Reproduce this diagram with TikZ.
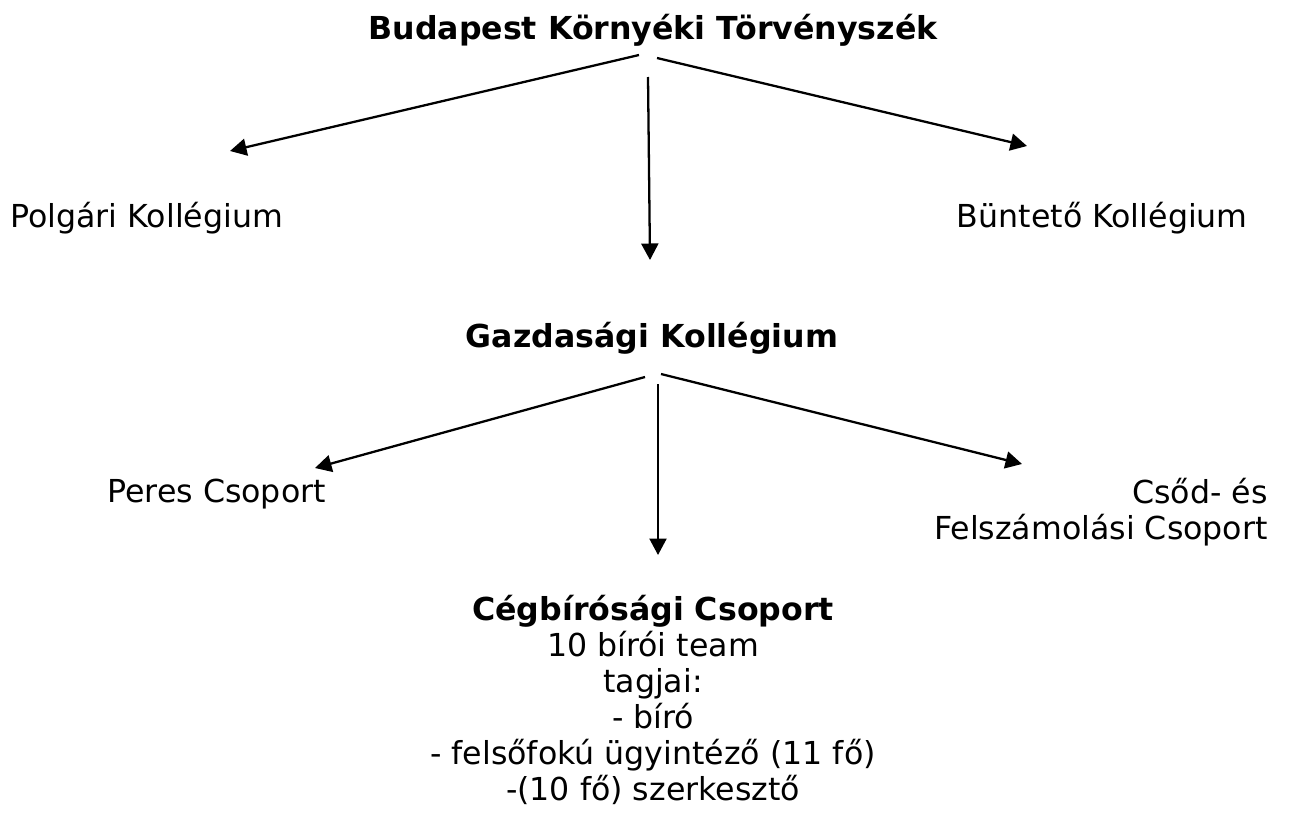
\documentclass[tikz,border=0pt]{standalone}
\usepackage{fontspec}
\setmainfont{DejaVu Sans}
\usetikzlibrary{arrows.meta, positioning}

\begin{document}
\begin{tikzpicture}[
        x=0.02cm, y=-0.02cm,
        lbl/.style={inner sep=0pt, font=\fontsize{18}{20.5}\selectfont},
        head/.style={lbl, font=\fontsize{18}{20.5}\selectfont\bfseries},
        link/.style={-{Triangle[length=0.33cm, width=0.34cm]}, line width=1.3pt}
    ]
        \useasboundingbox (0,0) rectangle (1307,818);

        \node[head, anchor=base] (bkt) at (653,39) {Budapest Környéki Törvényszék};
        \node[lbl, anchor=base west] (polgari) at (10,227) {Polgári Kollégium};
        \node[lbl, anchor=base east] (buntet) at (1248,227) {Büntető Kollégium};
        \node[head, anchor=base] (gazd) at (652,347) {Gazdasági Kollégium};
        \node[lbl, anchor=base west] (peres) at (107,502) {Peres Csoport};
        \node[lbl, anchor=north east, align=right] (csod) at (1268,478) {Csőd- és\\Felszámolási Csoport};
        \node[lbl, anchor=north, align=center] (ceg) at (653,595) {\textbf{Cégbírósági Csoport}\\10 bírói team\\tagjai:\\- bíró\\- felsőfokú ügyintéző (11 fő)\\-(10 fő) szerkesztő};

        % arrow ends
        \coordinate (bkt-l) at (639,55);
        \coordinate (bkt-m) at (648,77);
        \coordinate (bkt-r) at (657,58);
        \coordinate (polgari-in) at (230,151);
        \coordinate (gazd-in) at (650,260);
        \coordinate (buntet-in) at (1027,146);
        \coordinate (gazd-l) at (645,377);
        \coordinate (gazd-m) at (658,384);
        \coordinate (gazd-r) at (661,374);
        \coordinate (peres-in) at (315,468);
        \coordinate (ceg-in) at (658,555);
        \coordinate (csod-in) at (1022,464);

        \draw[link] (bkt-l) -- (polgari-in);
        \draw[link] (bkt-m) -- (gazd-in);
        \draw[link] (bkt-r) -- (buntet-in);
        \draw[link] (gazd-l) -- (peres-in);
        \draw[link] (gazd-m) -- (ceg-in);
        \draw[link] (gazd-r) -- (csod-in);
    \end{tikzpicture}
\end{document}
